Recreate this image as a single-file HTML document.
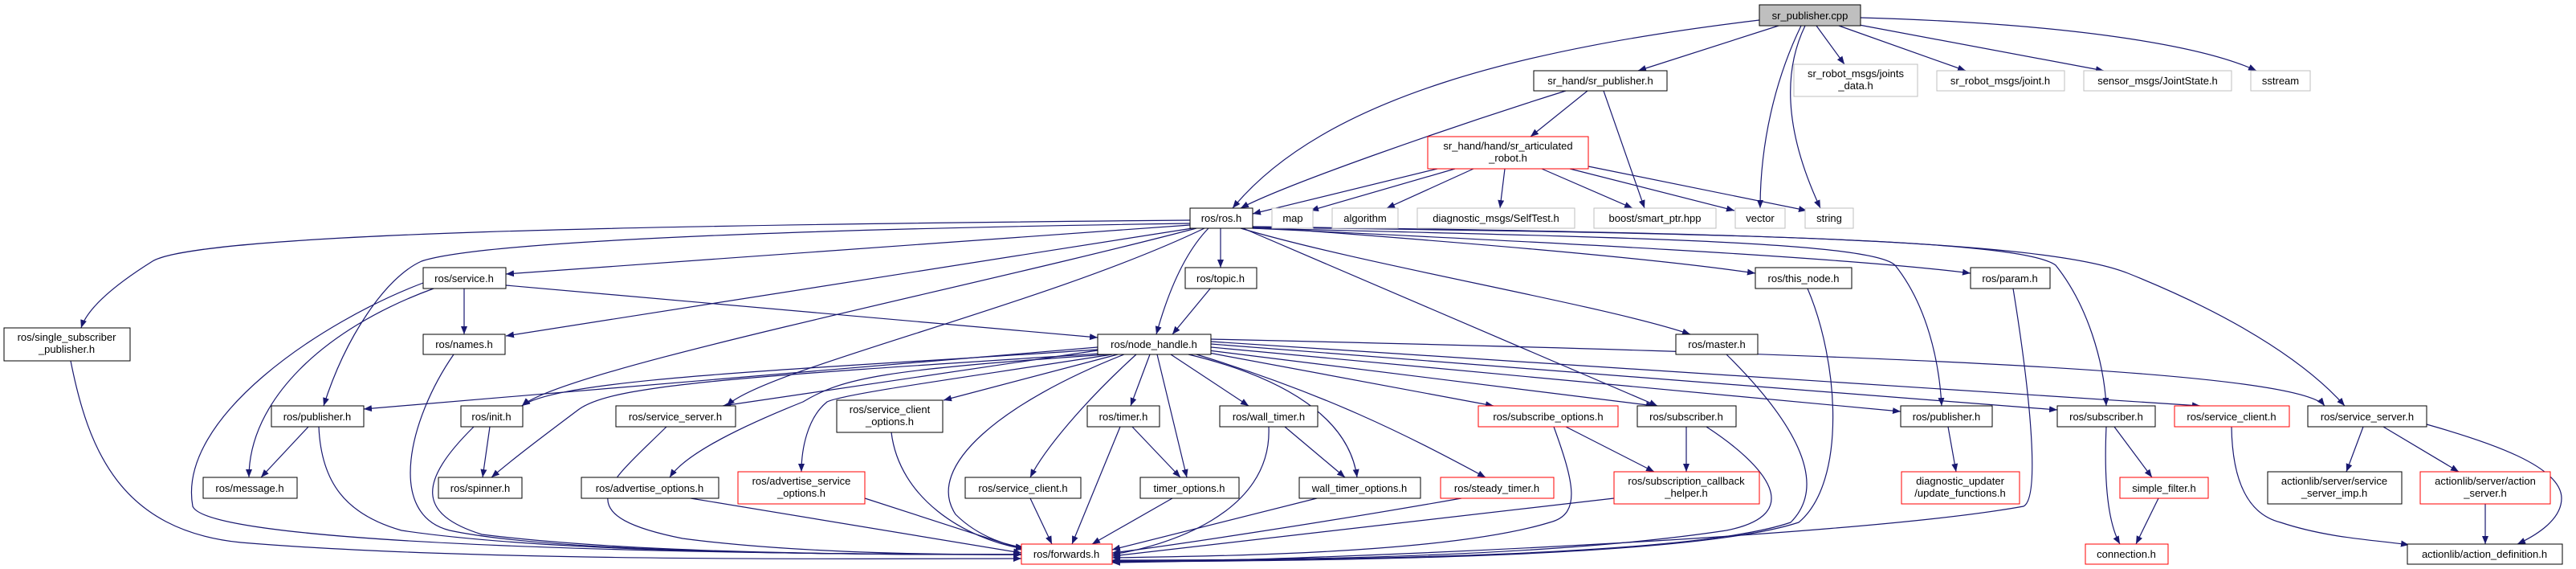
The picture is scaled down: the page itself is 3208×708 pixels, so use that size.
<!DOCTYPE html>
<html><head><meta charset="utf-8"><style>
html,body{margin:0;padding:0;background:#fff;}
svg{display:block;}
text{font-family:"Liberation Sans",sans-serif;font-size:13px;fill:#000;}
.e{fill:none;stroke:#191970;stroke-width:1.2;marker-end:url(#a);}
.n{fill:#fff;stroke:#000;stroke-width:1;}
.g{fill:#fff;stroke:#bfbfbf;stroke-width:1;}
.r{fill:#fff;stroke:#ff0000;stroke-width:1;}
</style></head><body>
<svg width="3208" height="708" viewBox="0 0 3208 708" xmlns="http://www.w3.org/2000/svg">
<defs><marker id="a" markerUnits="userSpaceOnUse" markerWidth="12" markerHeight="10" refX="10" refY="4" orient="auto"><path d="M0,0 L10,4 L0,8 z" fill="#191970"/></marker></defs>
<g>
<path class="e" d="M2191,25 C1900,60 1650,120 1535,259"/>
<path class="e" d="M2215,32 L2040,88"/>
<path class="e" d="M2262,32 L2297,80"/>
<path class="e" d="M2290,32 L2448,88"/>
<path class="e" d="M2310,30 L2620,88"/>
<path class="e" d="M2317,22 C2600,30 2750,60 2810,88"/>
<path class="e" d="M2243,32 C2210,100 2192,180 2192,259"/>
<path class="e" d="M2248,32 C2215,100 2230,180 2267,259"/>
<path class="e" d="M1977,113 L1906,170"/>
<path class="e" d="M1950,113 C1800,160 1600,230 1545,259"/>
<path class="e" d="M1997,113 L2048,259"/>
<path class="e" d="M1790,210 L1560,266"/>
<path class="e" d="M1812,210 L1632,262"/>
<path class="e" d="M1835,210 L1727,259"/>
<path class="e" d="M1874,210 L1868,259"/>
<path class="e" d="M1920,210 L2033,259"/>
<path class="e" d="M1955,210 L2160,262"/>
<path class="e" d="M1978,207 L2250,262"/>
<path class="e" d="M1482,274 C800,280 250,290 190,325 C150,350 110,380 101,408"/>
<path class="e" d="M1482,278 C1000,285 600,300 525,325 C480,345 430,420 403,505"/>
<path class="e" d="M1482,280 L630,341"/>
<path class="e" d="M1485,284 L630,418"/>
<path class="e" d="M1490,284 C1200,360 700,460 650,505"/>
<path class="e" d="M1500,284 C1300,380 950,460 905,505"/>
<path class="e" d="M1520,284 L1520,333"/>
<path class="e" d="M1505,284 C1470,320 1450,380 1440,416"/>
<path class="e" d="M1548,284 L2064,505"/>
<path class="e" d="M1545,284 C1700,330 2000,380 2105,416"/>
<path class="e" d="M1560,282 C1800,300 2050,320 2186,340"/>
<path class="e" d="M1560,284 C1900,300 2300,320 2454,340"/>
<path class="e" d="M1560,284 C2000,295 2330,300 2360,330 C2400,380 2415,450 2418,505"/>
<path class="e" d="M1560,283 C2200,290 2520,300 2560,330 C2600,380 2620,450 2623,505"/>
<path class="e" d="M1560,282 C2200,290 2550,300 2650,340 C2800,400 2880,460 2920,505"/>
<path class="e" d="M578,359 L578,416"/>
<path class="e" d="M540,359 C400,410 310,500 310,594"/>
<path class="e" d="M527,352 C400,400 220,520 240,630 C260,680 900,690 1272,690"/>
<path class="e" d="M630,355 L1367,420"/>
<path class="e" d="M1508,358 L1460,416"/>
<path class="e" d="M565,441 C510,520 480,640 560,660 C700,690 1100,690 1272,690"/>
<path class="e" d="M88,449 C110,560 150,660 300,675 C600,700 1100,695 1272,695"/>
<path class="e" d="M384,531 L325,594"/>
<path class="e" d="M397,531 C400,600 430,640 500,660 C700,690 1100,690 1272,690"/>
<path class="e" d="M610,531 L601,594"/>
<path class="e" d="M590,531 C520,600 520,640 600,665 C800,690 1100,690 1272,690"/>
<path class="e" d="M1367,432 L453,509"/>
<path class="e" d="M1367,435 C1000,460 700,470 650,505"/>
<path class="e" d="M1370,440 C900,470 760,480 720,510 C680,540 640,570 612,594"/>
<path class="e" d="M1367,436 L900,505"/>
<path class="e" d="M1380,441 C1100,460 1050,470 1000,500 C900,540 850,570 834,594"/>
<path class="e" d="M1385,441 C1200,470 1050,490 1030,500 C1005,520 998,560 998,587"/>
<path class="e" d="M1392,441 L1175,498"/>
<path class="e" d="M1400,441 C1250,500 1150,580 1190,640 C1220,670 1260,680 1275,681"/>
<path class="e" d="M1415,441 C1350,500 1300,560 1283,594"/>
<path class="e" d="M1432,441 L1408,505"/>
<path class="e" d="M1441,441 L1478,594"/>
<path class="e" d="M1458,441 L1555,505"/>
<path class="e" d="M1480,441 C1600,470 1680,520 1690,594"/>
<path class="e" d="M1490,441 C1650,490 1750,540 1850,594"/>
<path class="e" d="M1500,438 L1860,505"/>
<path class="e" d="M1505,436 L2060,505"/>
<path class="e" d="M1508,432 L2367,512"/>
<path class="e" d="M1508,428 L2562,510"/>
<path class="e" d="M1508,425 L2740,505"/>
<path class="e" d="M1508,422 C2300,440 2860,460 2895,505"/>
<path class="e" d="M830,531 C760,600 700,640 850,670 C1000,690 1200,690 1272,690"/>
<path class="e" d="M860,620 L1272,688"/>
<path class="e" d="M1077,620 L1275,684"/>
<path class="e" d="M1110,538 C1120,620 1200,670 1275,683"/>
<path class="e" d="M1283,620 L1310,677"/>
<path class="e" d="M1410,531 L1470,594"/>
<path class="e" d="M1395,531 L1335,677"/>
<path class="e" d="M1460,620 L1360,677"/>
<path class="e" d="M1600,531 L1675,594"/>
<path class="e" d="M1580,531 C1585,640 1450,680 1385,690"/>
<path class="e" d="M1640,620 L1385,684"/>
<path class="e" d="M1820,620 C1650,650 1450,680 1385,688"/>
<path class="e" d="M1935,531 C1960,600 1970,640 1930,650 C1800,690 1500,692 1385,694"/>
<path class="e" d="M1950,531 L2060,587"/>
<path class="e" d="M2100,531 L2100,587"/>
<path class="e" d="M2125,531 C2200,580 2250,640 2150,660 C1900,698 1500,697 1385,697"/>
<path class="e" d="M2010,620 L1385,692"/>
<path class="e" d="M2150,441 C2230,520 2280,600 2230,650 C2100,695 1600,697 1385,698"/>
<path class="e" d="M2251,359 C2290,450 2300,600 2240,650 C2100,696 1600,698 1385,699"/>
<path class="e" d="M2507,359 C2530,500 2540,620 2520,630 C2300,670 1600,698 1385,700"/>
<path class="e" d="M2426,531 L2436,587"/>
<path class="e" d="M2633,531 L2680,594"/>
<path class="e" d="M2623,531 C2620,600 2625,650 2640,677"/>
<path class="e" d="M2688,620 L2660,677"/>
<path class="e" d="M2779,531 C2780,600 2800,640 2840,650 C2900,670 2960,672 3000,678"/>
<path class="e" d="M2943,531 L2922,587"/>
<path class="e" d="M2968,531 L3062,587"/>
<path class="e" d="M3022,528 C3100,550 3190,580 3190,620 C3190,650 3150,670 3135,677"/>
<path class="e" d="M3095,627 L3095,677"/>
</g>
<g text-anchor="middle">
<rect x="2191" y="6" width="126" height="26" fill="#bfbfbf" stroke="#000"/><text x="2254" y="24">sr_publisher.cpp</text>
<rect class="n" x="1910" y="88" width="166" height="25"/><text x="1993" y="105">sr_hand/sr_publisher.h</text>
<rect class="r" x="1778" y="170" width="200" height="40"/><text x="1878" y="186">sr_hand/hand/sr_articulated</text><text x="1878" y="201">_robot.h</text>
<rect class="n" x="1482" y="259" width="78" height="25"/><text x="1521" y="276">ros/ros.h</text>
<rect class="g" x="1584" y="259" width="51" height="25"/><text x="1610" y="276">map</text>
<rect class="g" x="1659" y="259" width="82" height="25"/><text x="1700" y="276">algorithm</text>
<rect class="g" x="1765" y="259" width="196" height="25"/><text x="1863" y="276">diagnostic_msgs/SelfTest.h</text>
<rect class="g" x="1985" y="259" width="152" height="25"/><text x="2061" y="276">boost/smart_ptr.hpp</text>
<rect class="g" x="2161" y="259" width="62" height="25"/><text x="2192" y="276">vector</text>
<rect class="g" x="2248" y="259" width="60" height="25"/><text x="2278" y="276">string</text>
<rect class="g" x="2234" y="80" width="154" height="40"/><text x="2311" y="96">sr_robot_msgs/joints</text><text x="2311" y="111">_data.h</text>
<rect class="g" x="2412" y="88" width="159" height="25"/><text x="2491" y="105">sr_robot_msgs/joint.h</text>
<rect class="g" x="2595" y="88" width="184" height="25"/><text x="2687" y="105">sensor_msgs/JointState.h</text>
<rect class="g" x="2803" y="88" width="74" height="25"/><text x="2840" y="105">sstream</text>
<rect class="n" x="527" y="333" width="103" height="26"/><text x="578" y="351">ros/service.h</text>
<rect class="n" x="1476" y="333" width="89" height="26"/><text x="1520" y="351">ros/topic.h</text>
<rect class="n" x="2186" y="333" width="120" height="26"/><text x="2246" y="351">ros/this_node.h</text>
<rect class="n" x="2454" y="333" width="99" height="26"/><text x="2503" y="351">ros/param.h</text>
<rect class="n" x="5" y="408" width="157" height="41"/><text x="83" y="424">ros/single_subscriber</text><text x="83" y="439">_publisher.h</text>
<rect class="n" x="527" y="416" width="102" height="25"/><text x="578" y="433">ros/names.h</text>
<rect class="n" x="1367" y="416" width="141" height="25"/><text x="1437" y="433">ros/node_handle.h</text>
<rect class="n" x="2087" y="416" width="102" height="25"/><text x="2138" y="433">ros/master.h</text>
<rect class="n" x="338" y="505" width="115" height="26"/><text x="395" y="523">ros/publisher.h</text>
<rect class="n" x="574" y="505" width="77" height="26"/><text x="612" y="523">ros/init.h</text>
<rect class="n" x="767" y="505" width="149" height="26"/><text x="841" y="523">ros/service_server.h</text>
<rect class="n" x="1042" y="498" width="132" height="40"/><text x="1108" y="514">ros/service_client</text><text x="1108" y="529">_options.h</text>
<rect class="n" x="1354" y="505" width="90" height="26"/><text x="1399" y="523">ros/timer.h</text>
<rect class="n" x="1519" y="505" width="122" height="26"/><text x="1580" y="523">ros/wall_timer.h</text>
<rect class="r" x="1841" y="505" width="174" height="26"/><text x="1928" y="523">ros/subscribe_options.h</text>
<rect class="n" x="2039" y="505" width="123" height="26"/><text x="2100" y="523">ros/subscriber.h</text>
<rect class="n" x="2367" y="505" width="114" height="26"/><text x="2424" y="523">ros/publisher.h</text>
<rect class="n" x="2562" y="505" width="122" height="26"/><text x="2623" y="523">ros/subscriber.h</text>
<rect class="r" x="2708" y="505" width="143" height="26"/><text x="2779" y="523">ros/service_client.h</text>
<rect class="n" x="2874" y="505" width="148" height="26"/><text x="2948" y="523">ros/service_server.h</text>
<rect class="n" x="253" y="594" width="117" height="26"/><text x="311" y="612">ros/message.h</text>
<rect class="n" x="546" y="594" width="104" height="26"/><text x="598" y="612">ros/spinner.h</text>
<rect class="n" x="724" y="594" width="171" height="26"/><text x="809" y="612">ros/advertise_options.h</text>
<rect class="r" x="919" y="587" width="158" height="40"/><text x="998" y="603">ros/advertise_service</text><text x="998" y="618">_options.h</text>
<rect class="n" x="1202" y="594" width="144" height="26"/><text x="1274" y="612">ros/service_client.h</text>
<rect class="n" x="1420" y="594" width="123" height="26"/><text x="1481" y="612">timer_options.h</text>
<rect class="n" x="1618" y="594" width="151" height="26"/><text x="1693" y="612">wall_timer_options.h</text>
<rect class="r" x="1794" y="594" width="141" height="26"/><text x="1864" y="612">ros/steady_timer.h</text>
<rect class="r" x="2010" y="587" width="181" height="40"/><text x="2100" y="603">ros/subscription_callback</text><text x="2100" y="618">_helper.h</text>
<rect class="r" x="2368" y="587" width="147" height="40"/><text x="2441" y="603">diagnostic_updater</text><text x="2441" y="618">/update_functions.h</text>
<rect class="r" x="2640" y="594" width="110" height="26"/><text x="2695" y="612">simple_filter.h</text>
<rect class="n" x="2824" y="587" width="167" height="40"/><text x="2907" y="603">actionlib/server/service</text><text x="2907" y="618">_server_imp.h</text>
<rect class="r" x="3014" y="587" width="162" height="40"/><text x="3095" y="603">actionlib/server/action</text><text x="3095" y="618">_server.h</text>
<rect class="r" x="1272" y="677" width="113" height="25"/><text x="1328" y="694">ros/forwards.h</text>
<rect class="r" x="2597" y="677" width="103" height="25"/><text x="2648" y="694">connection.h</text>
<rect class="n" x="2998" y="677" width="193" height="25"/><text x="3094" y="694">actionlib/action_definition.h</text>
</g>
</svg>
</body></html>
